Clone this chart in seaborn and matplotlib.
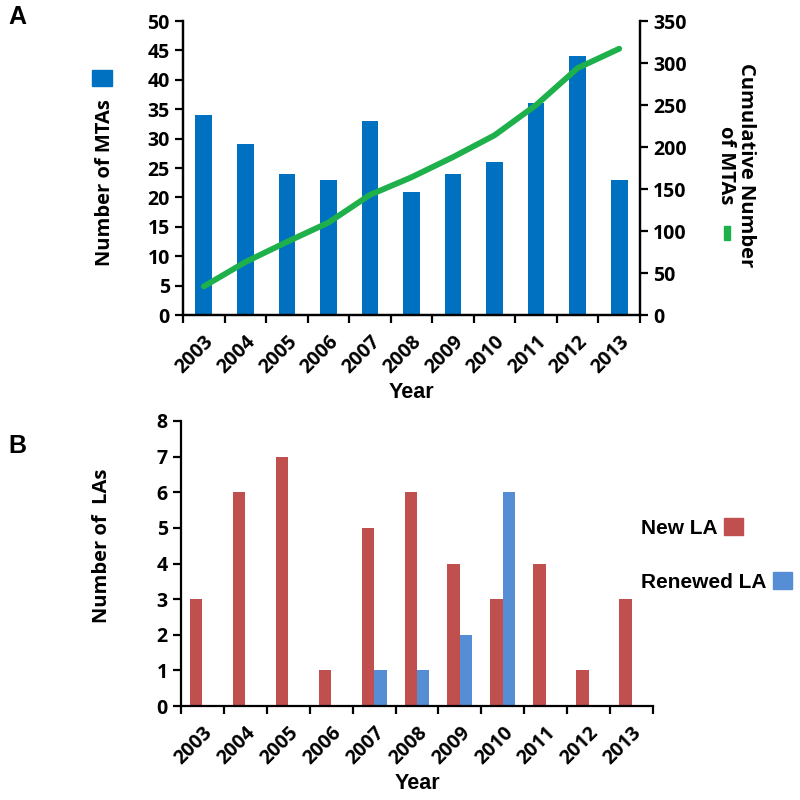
import numpy as np
import pandas as pd
import matplotlib
matplotlib.use("Agg")
import matplotlib.pyplot as plt
import seaborn as sns
from matplotlib.patches import Patch

# data
years = ["2003", "2004", "2005", "2006", "2007", "2008", "2009", "2010", "2011", "2012", "2013"]
mtas = [34, 29, 24, 23, 33, 21, 24, 26, 36, 44, 23]
cum_mtas = [34, 63, 87, 110, 143, 164, 188, 214, 250, 294, 317]
new_la = [3, 6, 7, 1, 5, 6, 4, 3, 4, 1, 3]
renewed_la = [0, 0, 0, 0, 1, 1, 2, 6, 0, 0, 0]

blue = "#0070C0"
green = "#1DB04B"
red = "#C0504D"
lblue = "#558ED5"

sns.set_style("ticks")
plt.rcParams["font.family"] = ["Open Sans", "DejaVu Sans"]
plt.rcParams["font.weight"] = "bold"
plt.rcParams["axes.labelweight"] = "bold"
plt.rcParams["axes.linewidth"] = 1.6
plt.rcParams["text.color"] = "black"
plt.rcParams["axes.labelcolor"] = "black"
plt.rcParams["xtick.color"] = "black"
plt.rcParams["ytick.color"] = "black"
plt.rcParams["axes.edgecolor"] = "black"

XTICK = 14
YTICK = 14
LAB = 14.5

fig = plt.figure(figsize=(8, 8), dpi=100)
W = H = 800.0

def style_ax(ax, right=False):
    ax.set_xticks(np.arange(-0.5, len(years), 1.0))
    ax.set_xticklabels([])
    ax.set_xticks(np.arange(len(years)), minor=True)
    ax.set_xticklabels(years, minor=True, rotation=45, ha="right",
                       rotation_mode="anchor", fontsize=XTICK, fontweight="bold")
    ax.tick_params(axis="x", which="major", length=6, width=1.6, direction="out")
    ax.tick_params(axis="x", which="minor", length=0, pad=12)
    ax.tick_params(axis="y", length=6, width=1.6, labelsize=YTICK)
    for lab in ax.get_yticklabels():
        lab.set_fontweight("bold")
    ax.spines["top"].set_visible(False)
    if not right:
        ax.spines["right"].set_visible(False)
    ax.set_xlim(-0.5, len(years) - 0.5)
    ax.set_xlabel("Year", fontsize=15.5, fontweight="bold", labelpad=3,
                  family="Liberation Sans")


# ---------------- panel A ----------------
axA = fig.add_axes([183 / W, 1 - 315 / H, (640 - 183) / W, (315 - 21) / H])
dfA = pd.DataFrame({"year": years, "mtas": mtas})
sns.barplot(data=dfA, x="year", y="mtas", color=blue, saturation=1, width=0.4,
            linewidth=0, ax=axA)
axA.set_ylim(0, 50)
axA.set_yticks(np.arange(0, 51, 5))
style_ax(axA, right=True)
axA.set_ylabel("Number of MTAs", fontsize=LAB, fontweight="bold")
axA.yaxis.set_label_coords(-0.149, 0.449)

axA2 = axA.twinx()
sns.lineplot(x=np.arange(len(years)), y=cum_mtas, color=green, linewidth=4.2, ax=axA2)
axA2.set_ylim(0, 350)
axA2.set_yticks(np.arange(0, 351, 50))
axA2.tick_params(axis="y", length=6, width=1.6, labelsize=YTICK)
for lab in axA2.get_yticklabels():
    lab.set_fontweight("bold")
axA2.spines["top"].set_visible(False)
axA2.set_ylabel("")
axA2.set_xlim(-0.5, len(years) - 0.5)

fig.text(736 / W, 1 - 165 / H, "Cumulative Number\nof MTAs", rotation=270,
         ha="center", va="center", multialignment="center",
         fontsize=LAB, fontweight="bold", linespacing=0.95)

fig.legend(handles=[Patch(color=blue)], labels=[""], frameon=False,
           loc="center", bbox_to_anchor=(102 / W, 1 - 78 / H),
           handlelength=1.4, handleheight=1.4, handletextpad=0, borderpad=0)
fig.legend(handles=[Patch(color=green)], labels=[""], frameon=False,
           loc="center", bbox_to_anchor=(727 / W, 1 - 233 / H),
           handlelength=0.45, handleheight=1.2, handletextpad=0, borderpad=0)

# ---------------- panel B ----------------
axB = fig.add_axes([181 / W, 1 - 706 / H, (653 - 181) / W, (706 - 421) / H])
dfB = pd.DataFrame({
    "year": years * 2,
    "count": new_la + renewed_la,
    "type": ["New LA"] * len(years) + ["Renewed LA"] * len(years),
})
sns.barplot(data=dfB, x="year", y="count", hue="type",
            palette=[red, lblue], saturation=1, width=0.58, linewidth=0,
            ax=axB, legend=False)
axB.set_ylim(0, 8)
axB.set_yticks(np.arange(0, 9, 1))
style_ax(axB)
axB.set_ylabel("Number of  LAs", fontsize=LAB, fontweight="bold")
axB.yaxis.set_label_coords(-0.146, 0.561)

# legend entries: text first, coloured square after, texts left aligned
for lbl, col, yc in [("New LA", red, 528), ("Renewed LA", lblue, 582)]:
    fig.legend(handles=[Patch(color=col)], labels=[lbl], markerfirst=False,
               frameon=False, loc="center left",
               bbox_to_anchor=(641 / W, 1 - yc / H),
               prop={"size": 15, "weight": "bold", "family": "Liberation Sans"},
               handlelength=0.9, handleheight=0.9, handletextpad=0.3,
               borderpad=0, borderaxespad=0)

fig.text(8 / W, 1 - 17 / H, "A", fontsize=18, fontweight="bold", va="center", family="Liberation Sans")
fig.text(8 / W, 1 - 446 / H, "B", fontsize=18, fontweight="bold", va="center", family="Liberation Sans")

fig.savefig("out.png", dpi=100, facecolor="white")
